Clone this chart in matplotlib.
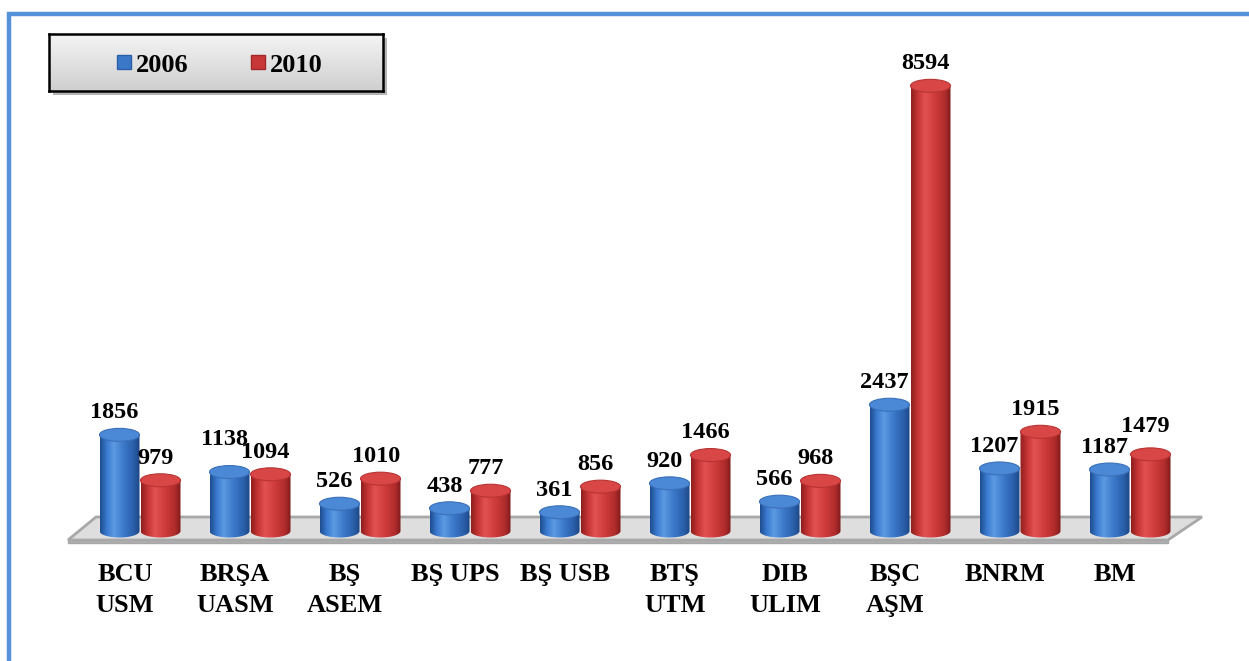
import numpy as np
import matplotlib
matplotlib.use("Agg")
import matplotlib.pyplot as plt
from matplotlib.patches import Rectangle, Ellipse, Polygon, PathPatch
from matplotlib.path import Path
from matplotlib.lines import Line2D
from matplotlib.colors import LinearSegmentedColormap

# ---------------- data ----------------
categories = ["BCU\nUSM", "BRŞA\nUASM", "BŞ\nASEM", "BŞ UPS", "BŞ USB",
              "BTŞ\nUTM", "DIB\nULIM", "BŞC\nAŞM", "BNRM", "BM"]
values_2006 = [1856, 1138, 526, 438, 361, 920, 566, 2437, 1207, 1187]
values_2010 = [979, 1094, 1010, 777, 856, 1466, 968, 8594, 1915, 1479]
series_names = ["2006", "2010"]

# extra upward shift of a few value labels (px), as in the reference
nudge_2006 = {1: 10}
nudge_2010 = {9: 6}

W, H = 1249, 661
fig = plt.figure(figsize=(W / 100, H / 100), dpi=100)
fig.patch.set_facecolor("white")

FONT = ["Liberation Serif", "DejaVu Serif"]

# axes mapping
px_per_x = 110.0
x_left_px = 140 - 0.5 * px_per_x
px_per_y = 0.0518
zero_px_from_top = 531
ylo, yhi = -2000, 10000
ax_bottom_px = (H - zero_px_from_top) + ylo * px_per_y
ax_height_px = (yhi - ylo) * px_per_y
ax = fig.add_axes([x_left_px / W, ax_bottom_px / H, 10 * px_per_x / W, ax_height_px / H])
ax.set_xlim(-0.5, 9.5)
ax.set_ylim(ylo, yhi)
ax.axis("off")


def px2y(py):
    return (zero_px_from_top - py) / px_per_y


def px2x(px):
    return (px - 140) / px_per_x


# ---- floor ----
floor_front = px2y(540)
floor_back = px2y(517)
floor_thick = px2y(543)
fl = [(px2x(68), floor_front), (px2x(1168), floor_front),
      (px2x(1202), floor_back), (px2x(96), floor_back)]
side = [(px2x(68), floor_front), (px2x(1168), floor_front),
        (px2x(1168), floor_thick), (px2x(68), floor_thick)]
ax.add_patch(Polygon(side, closed=True, facecolor="#b0b0b0", edgecolor="#a6a6a6",
                     lw=1, zorder=1, clip_on=False))
ax.add_patch(Polygon(fl, closed=True, facecolor="#dedede", edgecolor="#a8a8a8",
                     lw=2, zorder=1.1, clip_on=False))

# ---- cylinders ----
bw = 40 / px_per_x
ell_h = 13 / px_per_y
offset = 20.5 / px_per_x

blue_grad = ["#1d4c8f", "#3c7cd0", "#5c9ae2", "#3a78c9", "#2a5ea8", "#1c4684"]
red_grad = ["#8e1e1e", "#c73535", "#e25252", "#cf3b3b", "#b02c2c", "#7e1a1a"]
stops = [0, .18, .35, .6, .85, 1]
cmap_b = LinearSegmentedColormap.from_list("b", list(zip(stops, blue_grad)))
cmap_r = LinearSegmentedColormap.from_list("r", list(zip(stops, red_grad)))
grad = np.linspace(0, 1, 256).reshape(1, -1)


def cylinder(xc, v, cmap, top_color, top_edge):
    x0, x1 = xc - bw / 2, xc + bw / 2
    t = np.linspace(np.pi, 2 * np.pi, 40)
    bottom = np.column_stack([xc + bw / 2 * np.cos(t), ell_h / 2 * np.sin(t)])
    verts = [(x0, v)] + [tuple(p) for p in bottom] + [(x1, v), (x0, v)]
    patch = PathPatch(Path(verts), facecolor="none", edgecolor="none")
    ax.add_patch(patch)
    im = ax.imshow(grad, cmap=cmap, aspect="auto",
                   extent=[x0, x1, -ell_h, v], zorder=3, interpolation="bilinear")
    im.set_clip_path(patch)
    ax.add_patch(Ellipse((xc, v), bw, ell_h, facecolor=top_color,
                         edgecolor=top_edge, lw=0.8, zorder=3.5))


def value_label(xx, vv, extra_px):
    ax.annotate(f"{vv}", (xx, vv), xytext=(-3.5, 16 + extra_px * 0.72),
                textcoords="offset points", ha="center", va="center",
                fontsize=17.5, fontweight="bold", family=FONT, color="black", zorder=5)


for i in range(len(categories)):
    xb = i - offset
    xr = i + offset
    cylinder(xb, values_2006[i], cmap_b, "#4b88d6", "#3a70b8")
    cylinder(xr, values_2010[i], cmap_r, "#d94646", "#b83333")
    value_label(xb, values_2006[i], nudge_2006.get(i, 0))
    value_label(xr, values_2010[i], nudge_2010.get(i, 0))

# category labels
for i, lab in enumerate(categories):
    ax.text(i - 15 / px_per_x, px2y(563), lab, ha="center", va="top",
            fontsize=19, fontweight="bold", family=FONT, linespacing=1.45, zorder=5)

# ---- legend box ----
lx0, ly0, lx1, ly1 = 49, 34, 383, 91
shadow = Rectangle(((lx0 + 4) / W, 1 - (ly1 + 4) / H), (lx1 - lx0) / W, (ly1 - ly0) / H,
                   transform=fig.transFigure, facecolor="#b5b5b5", edgecolor="none", zorder=8)
fig.patches.append(shadow)
lax = fig.add_axes([lx0 / W, 1 - ly1 / H, (lx1 - lx0) / W, (ly1 - ly0) / H], zorder=9)
lax.imshow(np.linspace(0, 1, 64).reshape(-1, 1),
           cmap=LinearSegmentedColormap.from_list("g", ["#f4f4f4", "#cfcfcf"]),
           aspect="auto", extent=[0, 1, 0, 1], origin="upper")
lax.set_xticks([]); lax.set_yticks([])
for s in lax.spines.values():
    s.set_linewidth(1.8); s.set_color("black")

handles = [Line2D([], [], marker="s", ls="none", markersize=10,
                  markerfacecolor="#3b78c8", markeredgecolor="#2a5ea8"),
           Line2D([], [], marker="s", ls="none", markersize=10,
                  markerfacecolor="#c93838", markeredgecolor="#a02828")]
leg = lax.legend(handles, series_names, loc="center", ncol=2, frameon=False,
                 prop={"family": FONT, "weight": "bold", "size": 19},
                 handlelength=0.7, handletextpad=0.1, columnspacing=2.3,
                 borderaxespad=0, bbox_to_anchor=(0.508, 0.46))

# ---- outer blue frame ----
frame = Rectangle((9 / W, -0.1), 1.2, 1 - 14 / H + 0.1, transform=fig.transFigure,
                  facecolor="none", edgecolor="#5590d8", lw=3.2, zorder=10, clip_on=False)
fig.patches.append(frame)

fig.savefig("out.png", dpi=100)
